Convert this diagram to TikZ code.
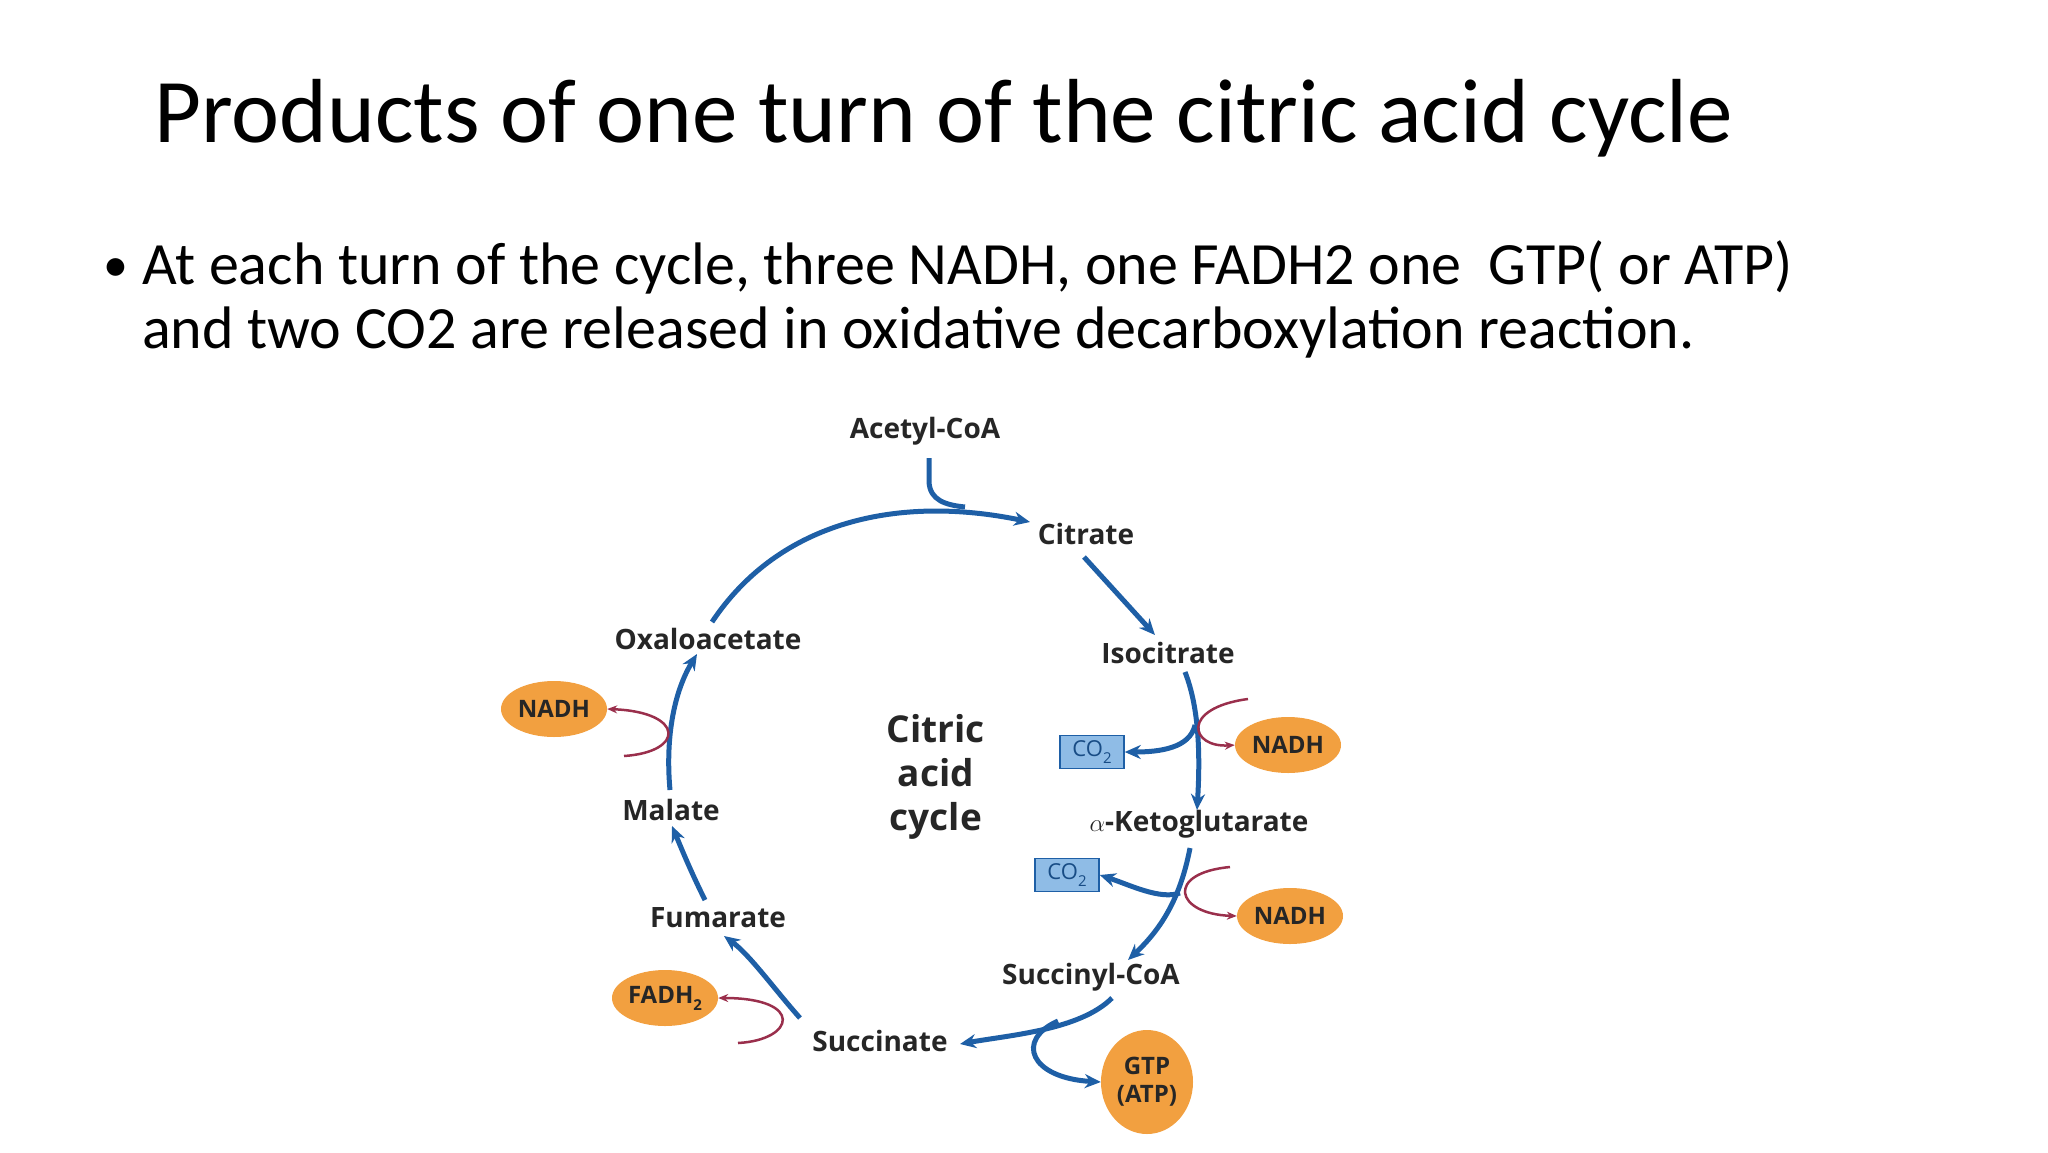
\documentclass[tikz,border=0pt]{standalone}
\usepackage{fontspec}
\setmainfont{Carlito}
\newfontfamily\diag{Open Sans}
\usetikzlibrary{arrows.meta,shapes.geometric}
\definecolor{cblue}{HTML}{1E5FA6}
\definecolor{cred}{HTML}{9A2F4C}
\definecolor{corange}{HTML}{F2A040}
\definecolor{cbox}{HTML}{8FBCE6}
\newcommand{\subtwo}{\raisebox{-.3em}{\fontsize{15}{15}\selectfont 2}}
\begin{document}
\begin{tikzpicture}[x=1pt,y=-1pt,
  lbl/.style={font=\diag\bfseries\fontsize{28}{32}\selectfont, text=black!85, inner sep=1pt},
  eln/.style={ellipse, fill=corange, font=\diag\bfseries\fontsize{24}{26}\selectfont, text=black!85, minimum width=106pt, minimum height=56pt, inner sep=0pt},
  cobox/.style={draw=cblue, fill=cbox, line width=1.5pt, font=\diag\fontsize{22}{24}\selectfont, text=cblue!80!black, minimum width=64pt, minimum height=33pt, inner sep=0pt},
  bl/.style={draw=cblue, line width=5pt, -{Stealth[length=16pt,width=14pt]}},
  bln/.style={draw=cblue, line width=5pt},
  rd/.style={draw=cred, line width=2.5pt, -{Stealth[length=10pt,width=8pt]}}]
\useasboundingbox (0,0) rectangle (2048,1152);
\node[anchor=west, font=\fontsize{91}{96}\selectfont, inner sep=0pt] (title) at (154,118) {Products of one turn of the citric acid cycle};
\node[font=\fontsize{50}{60}\selectfont, inner sep=0pt] (bul) at (116,270) {•};
\node[anchor=north west, align=left, font=\fontsize{60}{64}\selectfont, inner sep=0pt] (txt) at (142,240) {At each turn of the cycle, three NADH, one FADH2 one\ \ GTP( or ATP)\\and two CO2 are released in oxidative decarboxylation reaction.};
% labels
\node[lbl] (acoa) at (925,431) {Acetyl-CoA};
\node[lbl] (cit) at (1086,534) {Citrate};
\node[lbl] (iso) at (1168,653) {Isocitrate};
\node[lbl] (akg) at (1199,824) {$\alpha$-Ketoglutarate};
\node[lbl] (scoa) at (1091,977) {Succinyl-CoA};
\node[lbl] (succ) at (880,1041) {Succinate};
\node[lbl] (fum) at (718,918) {Fumarate};
\node[lbl] (mal) at (671,810) {Malate};
\node[lbl] (oxa) at (708,639) {Oxaloacetate};
\node[align=center, font=\diag\bfseries\fontsize{37}{44}\selectfont, text=black!85] (cac) at (936,777) {Citric\\acid\\cycle};
\node[eln] (n1) at (554,709) {NADH};
\node[eln] (n2) at (1288,745) {NADH};
\node[eln] (n3) at (1290,916) {NADH};
\node[eln] (fad) at (665,998) {FADH\subtwo};
\node[eln, minimum width=92pt, minimum height=104pt, align=center, font=\diag\bfseries\fontsize{24}{28}\selectfont] (gtp) at (1147,1082) {GTP\\(ATP)};
\node[cobox] (co1) at (1092,752) {CO\subtwo};
\node[cobox] (co2) at (1067,875) {CO\subtwo};
% coordinates
\coordinate (oxt) at (712,622);
\coordinate (citw) at (1030,522);
\coordinate (acs) at (929,458);
\coordinate (m1) at (965,507);
\coordinate (cits) at (1084,557);
\coordinate (ison) at (1155,635);
\coordinate (isos) at (1185,672);
\coordinate (akgn) at (1197,810);
\coordinate (akgs) at (1190,848);
\coordinate (scn) at (1128,960);
\coordinate (scs) at (1112,998);
\coordinate (suce) at (960,1044);
\coordinate (sucn) at (800,1018);
\coordinate (fumn) at (724,936);
\coordinate (fumt) at (705,900);
\coordinate (malb) at (672,826);
\coordinate (malt) at (670,790);
\coordinate (oxb) at (697,654);
\coordinate (a1) at (1195,725);
\coordinate (a2) at (1180,893);
\coordinate (a3) at (1058,1021);
\coordinate (r1s) at (1248,699);
\coordinate (r2s) at (1230,867);
\coordinate (r3s) at (624,756);
\coordinate (r4s) at (738,1043);
% main cycle
\draw[bl] (oxt) .. controls (780,520) and (900,495) .. (citw);
\draw[bln] (acs) -- (929,482) .. controls (930,500) and (945,505) .. (m1);
\draw[bl] (cits) -- (ison);
\draw[bl] (isos) .. controls (1200,710) and (1200,760) .. (akgn);
\draw[bl] (a1) .. controls (1190,748) and (1160,752) .. (co1.east);
\draw[bl] (akgs) .. controls (1180,900) and (1160,930) .. (scn);
\draw[bl] (a2) .. controls (1160,900) and (1130,885) .. (co2.east);
\draw[bl] (scs) .. controls (1080,1030) and (1010,1035) .. (suce);
\draw[bl] (a3) .. controls (1015,1040) and (1030,1078) .. (gtp.west);
\draw[bl] (sucn) .. controls (775,990) and (750,955) .. (fumn);
\draw[bl] (fumt) .. controls (690,870) and (680,845) .. (malb);
\draw[bl] (malt) .. controls (665,735) and (675,690) .. (oxb);
% red side arrows
\draw[rd] (r1s) .. controls (1180,708) and (1190,748) .. (n2.west);
\draw[rd] (r2s) .. controls (1165,873) and (1175,914) .. (n3.west);
\draw[rd] (r3s) .. controls (685,752) and (685,712) .. (n1.east);
\draw[rd] (r4s) .. controls (795,1040) and (805,998) .. (fad.east);
\end{tikzpicture}
\end{document}
